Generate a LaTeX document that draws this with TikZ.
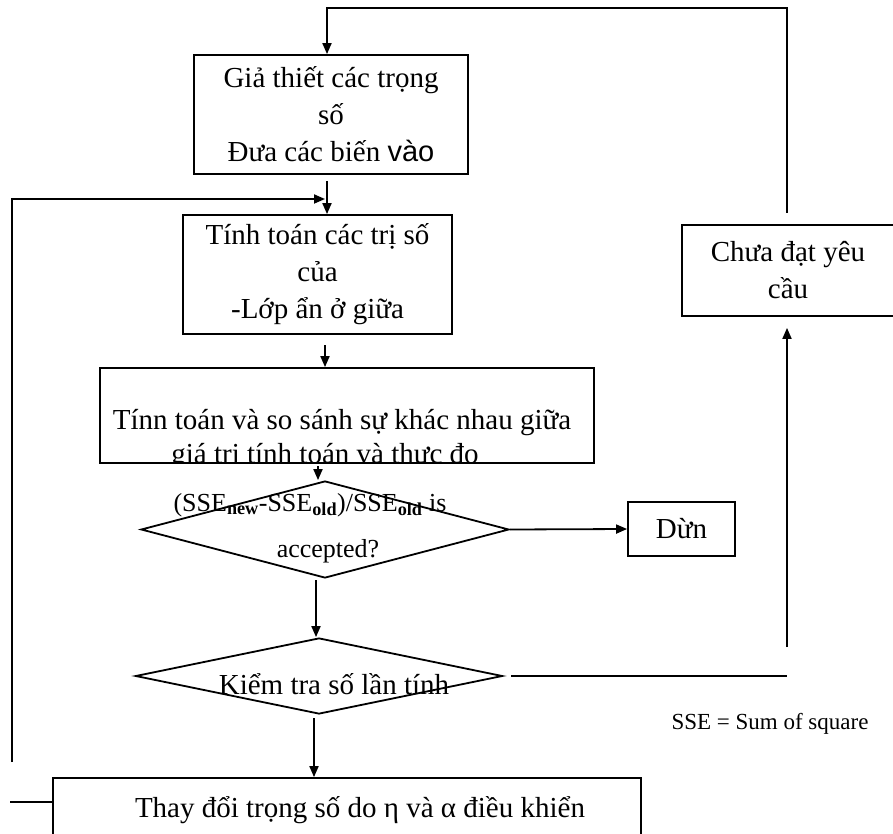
\documentclass[tikz,border=0pt]{standalone}
\usepackage{fontspec}
\setmainfont{Liberation Serif}
\newfontfamily\arialfont{Liberation Sans}
\usetikzlibrary{shapes.geometric,arrows.meta,calc}

\begin{document}
\begin{tikzpicture}[x=1pt,y=-1pt,
  every node/.style={font=\fontsize{29}{37}\selectfont},
  box/.style={draw, line width=1.8pt, inner sep=0pt, align=center},
  dia/.style={draw, diamond, line width=1.8pt, inner sep=0pt},
  conn/.style={line width=1.8pt},
  arr/.style={conn, -{Triangle[length=11pt,width=9pt]}},
  small/.style={font=\fontsize{26}{30}\selectfont},
  note/.style={font=\fontsize{23}{28}\selectfont},
]
\useasboundingbox (0,0) rectangle (893,834);

% boxes of the main column
\node[box, minimum width=274pt, minimum height=119pt] (b1) at (331,114.5)
  {Giả thiết các trọng\\số\\Đưa các biến {\arialfont vào}};
\node[box, minimum width=269pt, minimum height=119pt] (b2) at (317.5,274.5)
  {Tính toán các trị số\\của\\-Lớp ẩn ở giữa};
\node[box, minimum width=494pt, minimum height=95pt] (b3) at (347,415.5) {};
\begin{scope}
  \clip (b3.north west) rectangle (b3.south east);
  \node[anchor=base] (b3a) at (342,429) {Tínn toán và so sánh sự khác nhau giữa};
  \node[anchor=base] (b3b) at (325,463) {giá trị tính toán và thực đo};
\end{scope}

% first test and the stop box
\node[dia, minimum width=368pt, minimum height=97pt] (d1) at (325,529.5) {};
\node[small] (d1a) at (310,505)
  {(SSE\textsubscript{\textbf{new}}-SSE\textsubscript{\textbf{old}})/SSE\textsubscript{\textbf{old}} is};
\node[small] (d1b) at (328,551) {accepted?};
\node[box, minimum width=107pt, minimum height=54pt] (dun) at (681.5,529) {Dừn};

% second test
\node[dia, minimum width=367pt, minimum height=76pt] (d2) at (319,676) {};
\node (d2t) at (334,684) {Kiểm tra số lần tính};

% right-hand box and the note
\node[box, minimum width=212pt, minimum height=91pt] (rb) at (788,270.5) {Chưa đạt yêu\\cầu};
\node[note, anchor=west] (sse) at (668,724) {SSE = Sum of square};

% bottom box
\node[box, minimum width=588pt, minimum height=82pt] (bb) at (347,819) {};
\node (bbt) at (360,810) {Thay đổi trọng số do η và α điều khiển};

% helper points
\coordinate (tr) at (787,213);
\coordinate (tl) at (327,8);
\coordinate (a1) at (327,181);
\coordinate (lp) at (12,762);
\coordinate (lpend) at (325,199);
\coordinate (stub) at (10,802);
\coordinate (a2) at (325,345);
\coordinate (a3) at (318,466);
\coordinate (a4) at (316,580);
\coordinate (a5) at (314,718);
\coordinate (rv) at (787,647);
\coordinate (rh) at (787,676);

% connectors
\draw[arr] (tr) |- (tl) -- (tl |- b1.north);
\draw[arr] (a1) -- (a1 |- b2.north);
\draw[arr] (lp) |- (lpend);
\draw[conn] (stub) -- (stub -| bb.west);
\draw[arr] (a2) -- (a2 |- b3.north);
\draw[arr] (a3) -- (a3 |- d1.north);
\draw[arr] (d1.east) -- (dun.west);
\draw[arr] (a4) -- (a4 |- d2.north);
\draw[conn, shorten <=8pt] (d2.east) -- (rh);
\draw[arr, shorten >=11pt] (rv) -- (rv |- rb.south);
\draw[arr] (a5) -- (a5 |- bb.north);
\end{tikzpicture}
\end{document}
